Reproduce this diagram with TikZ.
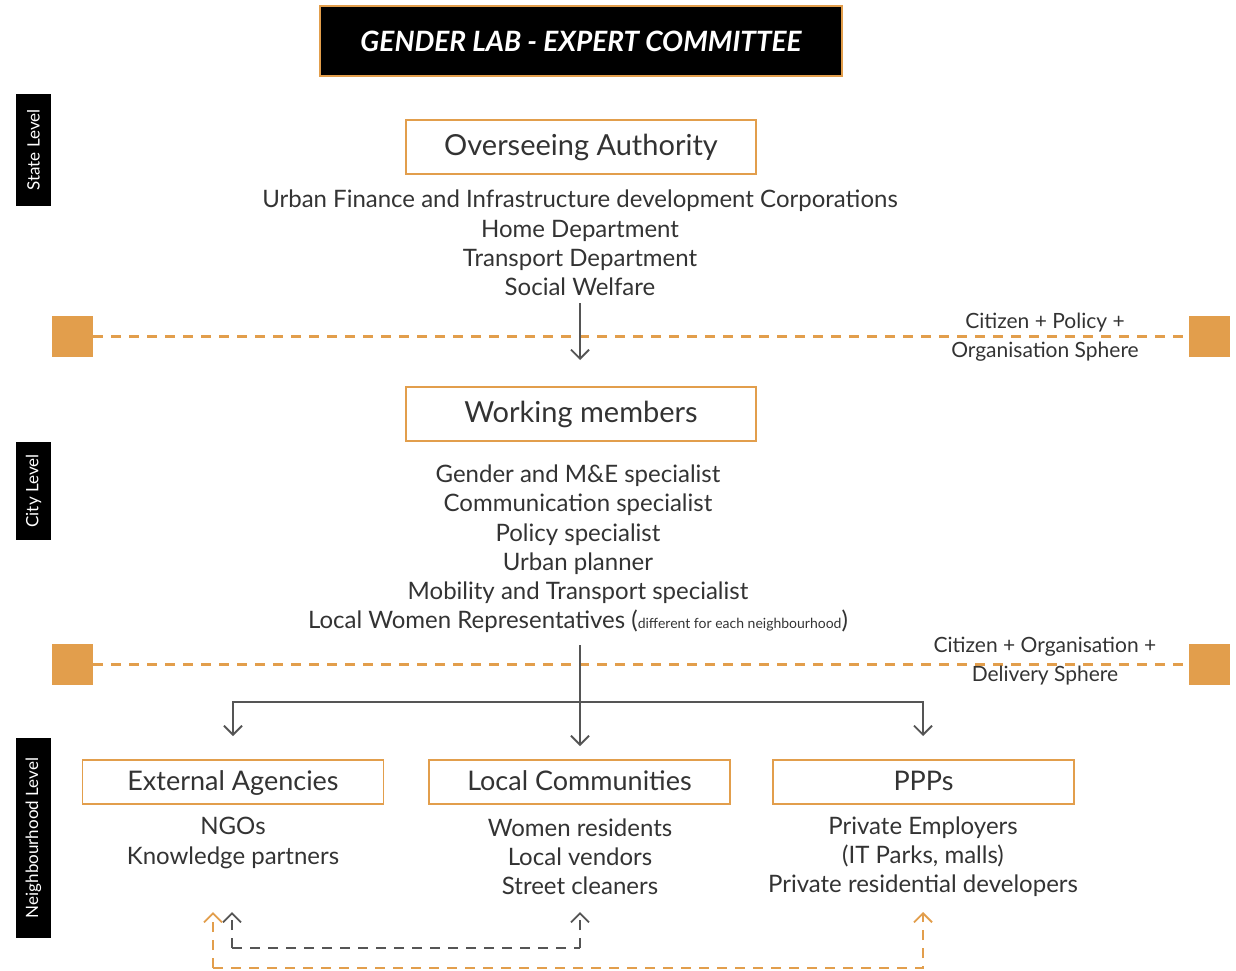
\documentclass[tikz,border=0pt]{standalone}
\usepackage{fontspec}
\setmainfont{Lato}
\usetikzlibrary{arrows.meta}
\definecolor{org}{HTML}{E29E4C}
\definecolor{txt}{HTML}{333333}
\definecolor{ln}{HTML}{555555}
\tikzset{
  x=1pt,y=-1pt,
  title/.style={draw=org,line width=1.5pt,fill=black,text=white,minimum width=522pt,minimum height=70pt,font=\fontsize{28}{32}\selectfont\bfseries\itshape},
  lvl/.style={fill=black,text=white,rotate=90,minimum height=35pt,inner sep=0pt,font=\fontsize{17}{19}\selectfont},
  hbox/.style={draw=org,line width=1.6pt,text=txt,minimum width=350pt,minimum height=54pt,text height=22pt,text depth=5pt,font=\fontsize{29}{32}\selectfont},
  sbox/.style={draw=org,line width=1.6pt,text=txt,minimum width=301pt,minimum height=44pt,text height=21pt,text depth=4pt,font=\fontsize{27}{30}\selectfont},
  body/.style={text=txt,font=\fontsize{24}{29.2}\selectfont,align=center,inner sep=0pt},
  side/.style={text=txt,font=\fontsize{21}{28.5}\selectfont,align=center,inner sep=0pt},
  sq/.style={fill=org,minimum width=41pt,minimum height=41pt,inner sep=0pt},
  odash/.style={draw=org,line width=2.2pt,dash pattern=on 10pt off 8pt},
  gline/.style={draw=ln,line width=1.8pt},
  gdash/.style={gline,dash pattern=on 10pt off 8pt},
  tip/.style={-{Straight Barb[length=9pt,width=18pt,line width=1.8pt]}},
}
\begin{document}
\begin{tikzpicture}
\useasboundingbox (0,0) rectangle (1236,971);
\node[title] (t) at (581,41) {GENDER LAB - EXPERT COMMITTEE};
\node[lvl,minimum width=112pt] (l1) at (33.5,150) {State Level};
\node[lvl,minimum width=98pt] (l2) at (33.5,491) {City Level};
\node[lvl,minimum width=200pt] (l3) at (33.5,838) {Neighbourhood Level};

\node[hbox] (oa) at (581,147) {Overseeing Authority};
\node[body] (oat) at (580,243) {Urban Finance and Infrastructure development Corporations\\Home Department\\Transport Department\\Social Welfare};

\node[sq] (s1l) at (72.5,336.5) {};
\node[sq] (s1r) at (1209.5,336.5) {};
\draw[odash] (s1l.east) -- (s1r.west);
\node[side] (c1) at (1045,337) {Citizen + Policy +\\Organisation Sphere};

\node[hbox] (wm) at (581,414) {Working members};
\coordinate (a1s) at (580,303);
\coordinate (a1e) at (580,360);
\draw[gline,tip] (a1s) -- (a1e);

\node[body] (wmt) at (578,549) {Gender and M\&E specialist\\Communication specialist\\Policy specialist\\Urban planner\\Mobility and Transport specialist\\Local Women Representatives ({\fontsize{14}{14}\selectfont different for each neighbourhood})};

\node[sq] (s2l) at (72.5,664.5) {};
\node[sq] (s2r) at (1209.5,664.5) {};
\draw[odash] (s2l.east) -- (s2r.west);
\node[side] (c2) at (1045,661) {Citizen + Organisation +\\Delivery Sphere};

\node[sbox] (ea) at (233,782) {External Agencies};
\node[sbox] (lc) at (579.5,782) {Local Communities};
\node[sbox] (pp) at (923.5,782) {PPPs};

\coordinate (v0) at (580,645);
\coordinate (vm) at (580,702);
\coordinate (h1) at (233,702);
\coordinate (h2) at (923,702);
\draw[gline,tip] (v0) -- (580,746);
\draw[gline,tip] (vm) -- (h1) -- (233,736);
\draw[gline,tip] (vm) -- (h2) -- (923,736);

\node[body] (eat) at (233,843) {NGOs\\Knowledge partners};
\node[body] (lct) at (580,857) {Women residents\\Local vendors\\Street cleaners};
\node[body] (ppt) at (923,857) {Private Employers\\(IT Parks, malls)\\Private residential developers};

\coordinate (g0) at (232,948);
\coordinate (g1) at (580,948);
\draw[gdash,tip] (g1) -- (580,912);
\draw[gdash] (g0) -- (g1);
\draw[gdash,tip] (g0) -- (232,912);
\coordinate (o0) at (213,968);
\coordinate (o1) at (923,968);
\draw[odash,tip] (o0) -- (213,912);
\draw[odash,tip] (o0) -- (o1) -- (923,912);
\end{tikzpicture}
\end{document}
